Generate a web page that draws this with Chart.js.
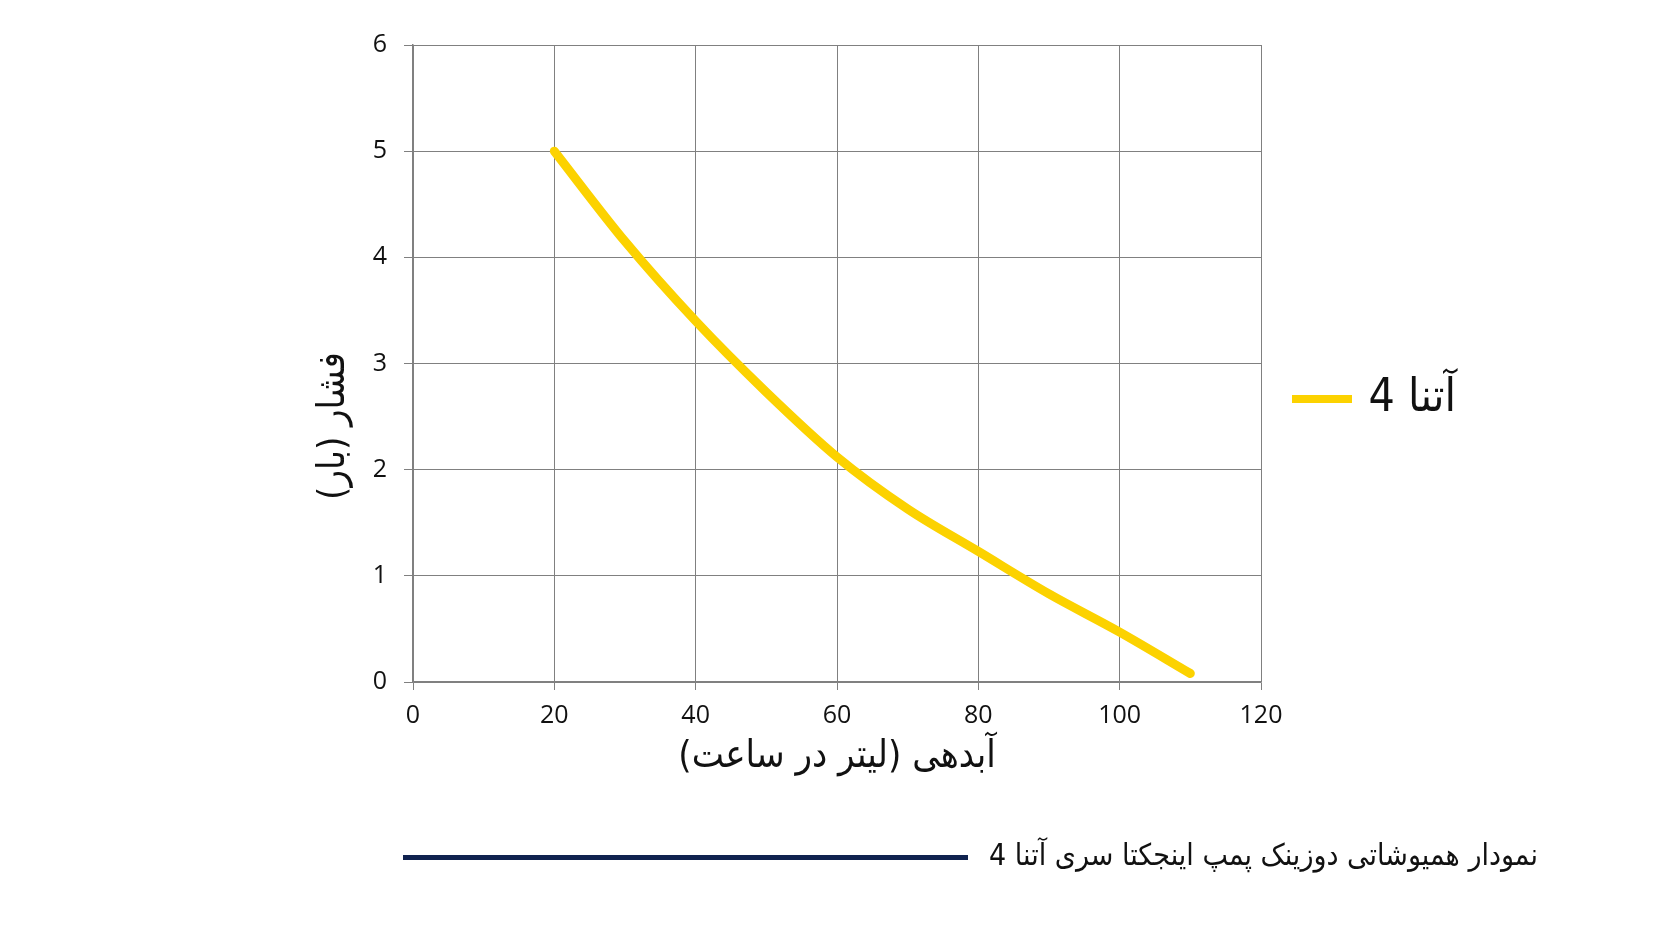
<!DOCTYPE html>
<html>
<head>
<meta charset="utf-8">
<script src="https://cdn.jsdelivr.net/npm/chart.js@4.4.1/dist/chart.umd.min.js"></script>
<style>
  body { margin: 0; background: #ffffff; }
  #wrap { position: relative; width: 1672px; height: 941px; overflow: hidden; }
  #caption {
    position: absolute; right: 134px; top: 837px;
    font-family: "DejaVu Sans Condensed", "DejaVu Sans", sans-serif;
    font-size: 30px; color: #111; direction: rtl; white-space: nowrap;
  }
  #captionLine {
    position: absolute; left: 403px; top: 855px; width: 565px; height: 5px;
    background: #10224f;
  }
</style>
</head>
<body>
<div id="wrap">
  <canvas id="pumpChart" width="1672" height="941"></canvas>
  <div id="captionLine"></div>
  <div id="caption">نمودار همیوشاتی دوزینک پمپ اینجکتا سری آتنا 4</div>
</div>
<script>
// --- data ---
const flowValues = [20, 30, 40, 50, 60, 70, 80, 90, 100, 110];       // لیتر در ساعت
const pressureValues = [5, 4.15, 3.4, 2.73, 2.12, 1.63, 1.23, 0.83, 0.47, 0.08]; // بار
const xTicks = [0, 20, 40, 60, 80, 100, 120];
const yTicks = [0, 1, 2, 3, 4, 5, 6];
const seriesLabel = 'آتنا 4';
const xTitle = '\u200Fآبدهی (لیتر در ساعت)\u200F';
const yTitle = 'فشار (بار)';

const persianFont = '"DejaVu Sans Condensed", "DejaVu Sans", sans-serif';
const numberFont = '"Open Sans", "Liberation Sans", sans-serif';
const gridColor = '#808080';
const curveColor = '#FCD200';

// legend and the (off-centre) y title, drawn on the canvas
const sideLegend = {
    id: 'sideLegend',
    afterDraw(chart) {
        const c = chart.ctx;
        const ds = chart.data.datasets[0];
        c.save();
        c.strokeStyle = ds.borderColor;
        c.lineWidth = 8;
        c.beginPath();
        c.moveTo(1292, 399);
        c.lineTo(1352, 399);
        c.stroke();
        c.fillStyle = '#111';
        c.font = '46px ' + persianFont;
        c.direction = 'rtl';
        c.textAlign = 'right';
        c.textBaseline = 'middle';
        c.fillText(ds.label, 1456, 399);

        // y axis title, rotated, sitting a bit below the axis middle as in the picture
        c.translate(334, 426);
        c.rotate(-Math.PI / 2);
        c.font = '38px ' + persianFont;
        c.textAlign = 'center';
        c.fillText(yTitle, 0, 0);
        c.restore();
    }
};

new Chart(document.getElementById('pumpChart'), {
    type: 'scatter',
    data: {
        datasets: [{
            label: seriesLabel,
            data: flowValues.map((x, i) => ({ x: x, y: pressureValues[i] })),
            showLine: true,
            borderColor: curveColor,
            backgroundColor: curveColor,
            borderWidth: 9,
            borderCapStyle: 'round',
            pointRadius: 0,
            cubicInterpolationMode: 'monotone'
        }]
    },
    options: {
        responsive: false,
        devicePixelRatio: 1,
        animation: false,
        layout: { padding: { left: 306, right: 411, top: 45, bottom: 157 } },
        plugins: { legend: { display: false }, tooltip: { enabled: false } },
        scales: {
            x: {
                type: 'linear',
                min: 0, max: 120,
                afterBuildTicks: s => { s.ticks = xTicks.map(v => ({ value: v })); },
                afterFit: s => { s.height = 102; },
                grid: { color: gridColor, lineWidth: 1, tickLength: 8 },
                border: { color: gridColor, width: 1.5 },
                ticks: { color: '#111', font: { family: numberFont, size: 25 }, padding: 11, maxRotation: 0 },
                title: { display: true, text: xTitle, color: '#111', font: { family: persianFont, size: 38 } }
            },
            y: {
                min: 0, max: 6,
                afterBuildTicks: s => { s.ticks = yTicks.map(v => ({ value: v })); },
                afterFit: s => { s.width = 107; },
                grid: { color: gridColor, lineWidth: 1, tickLength: 9 },
                border: { color: gridColor, width: 1.5 },
                ticks: { color: '#111', font: { family: numberFont, size: 25 }, padding: 17 },
                title: { display: false }
            }
        }
    },
    plugins: [sideLegend]
});
</script>
</body>
</html>
